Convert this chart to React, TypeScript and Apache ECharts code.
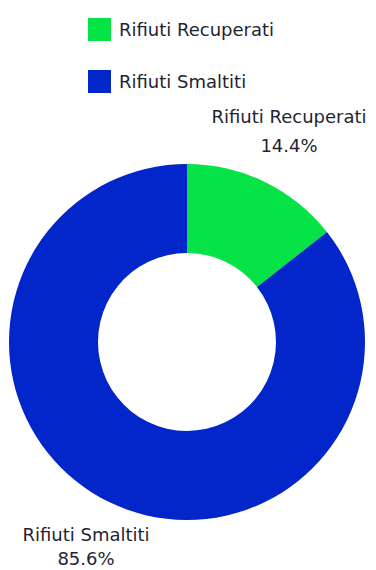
import React, { useEffect, useRef } from "react";
import * as echarts from "echarts";

const categories = ["Rifiuti Recuperati", "Rifiuti Smaltiti"];
const values = [14.4, 85.6];
const colors = ["#06E347", "#0226C9"];

export default function App() {
  const ref = useRef<HTMLDivElement>(null);
  useEffect(() => {
    if (!ref.current) return;
    const chart = echarts.init(ref.current, null, { renderer: "svg" });
    const font = "DejaVu Sans";
    chart.setOption({
      animation: false,
      color: colors,
      legend: {
        orient: "vertical",
        left: 83,
        top: 13,
        itemWidth: 23,
        itemHeight: 23,
        itemGap: 29,
        icon: "rect",
        data: categories,
        textStyle: { fontFamily: font, fontSize: 18, color: "#1f2430", padding: [0, 0, 0, 3] },
      },
      series: [
        {
          type: "pie",
          center: [187, 342],
          radius: [89, 178],
          startAngle: 90,
          clockwise: true,
          avoidLabelOverlap: false,
          data: categories.map((c, i) => ({
            name: c,
            value: values[i],
            label: i === 1 ? { lineHeight: 24 } : undefined,
          })),
          label: {
            show: true,
            position: "outside",
            formatter: (p: any) => `${p.name}\n${p.value.toFixed(1)}%`,
            fontFamily: font,
            fontSize: 18,
            lineHeight: 29,
            color: "#1f2430",
            align: "center",
          },
          labelLine: { show: false },
          labelLayout: (params: any) =>
            params.dataIndex === 0
              ? { x: 289, y: 131, align: "center", verticalAlign: "middle" }
              : { x: 86, y: 546, align: "center", verticalAlign: "middle" },
        },
      ],
    });
    return () => chart.dispose();
  }, []);
  return (
    <div
      ref={ref}
      style={{ position: "fixed", left: 0, top: 0, width: 376, height: 570, background: "#fff" }}
    />
  );
}
